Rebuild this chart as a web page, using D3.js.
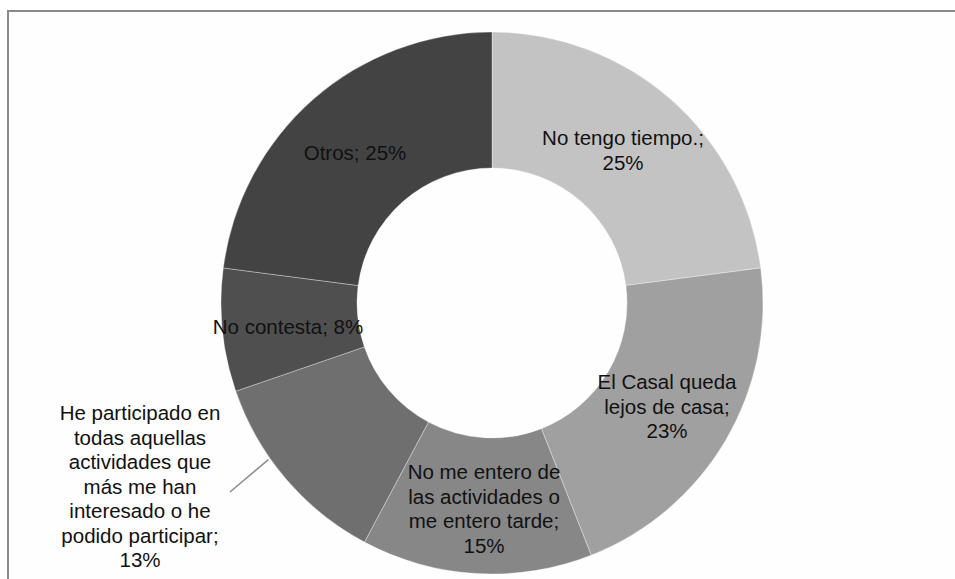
<!DOCTYPE html>
<html>
<head>
<meta charset="utf-8">
<script src="https://cdn.jsdelivr.net/npm/d3@7"></script>
<style>
  html, body { margin: 0; padding: 0; background: #ffffff; }
  svg { display: block; }
  text { font-family: "Liberation Sans", Arial, sans-serif; }
</style>
</head>
<body>
<svg id="chart" width="955" height="579"></svg>
<script>
// Motivos de no participación (porcentaje por respuesta)
const categories = [
  "No tengo tiempo.",
  "El Casal queda lejos de casa",
  "No me entero de las actividades o me entero tarde",
  "He participado en todas aquellas actividades que más me han interesado o he podido participar",
  "No contesta",
  "Otros"
];
const values = [25, 23, 15, 13, 8, 25];
const colors = ["#c3c3c3", "#a0a0a0", "#878787", "#6f6f6f", "#4f4f4f", "#434343"];

// Label lines as wrapped in the data labels
const labelLines = [
  ["No tengo tiempo.;", "25%"],
  ["El Casal queda", "lejos de casa;", "23%"],
  ["No me entero de", "las actividades o", "me entero tarde;", "15%"],
  ["He participado en", "todas aquellas", "actividades que", "más me han", "interesado o he", "podido participar;", "13%"],
  ["No contesta; 8%"],
  ["Otros; 25%"]
];

const svg = d3.select("#chart");

// chart area frame (extends beyond the visible window on the right and bottom)
svg.append("rect")
  .attr("x", 8).attr("y", 11)
  .attr("width", 1000).attr("height", 700)
  .attr("fill", "#fefefe")
  .attr("stroke", "#8a8a8a")
  .attr("stroke-width", 2);

const cx = 492, cy = 303;
const outerR = 271, innerR = 135;

const pie = d3.pie().sort(null).value(d => d.value);
const arcs = pie(categories.map((c, i) => ({ cat: c, value: values[i], i })));
const arc = d3.arc().innerRadius(innerR).outerRadius(outerR);

const g = svg.append("g").attr("transform", `translate(${cx},${cy})`);

g.selectAll("path.slice")
  .data(arcs)
  .enter().append("path")
  .attr("class", "slice")
  .attr("d", arc)
  .attr("fill", d => colors[d.data.i])
  .attr("stroke", "#ffffff")
  .attr("stroke-opacity", 0.45)
  .attr("stroke-width", 0.75);

// label anchor positions (centre of first line), relative to the donut centre
const labelPos = [
  [131, -165],
  [175, 79],
  [-8, 169],
  [-352, 110],
  [-204, 24],
  [-137, -150]
];
const lineH = 24.5;

const labels = svg.append("g");
arcs.forEach(d => {
  const i = d.data.i;
  const t = labels.append("text")
    .attr("text-anchor", "middle")
    .attr("font-size", 20.5)
    .attr("fill", "#111111");
  labelLines[i].forEach((ln, j) => {
    t.append("tspan")
      .attr("x", cx + labelPos[i][0])
      .attr("y", cy + labelPos[i][1] + j * lineH)
      .attr("dy", "0.35em")
      .text(ln);
  });
});

// leader line from the outside label to the rim of its slice
const leaderAngle = 235 * Math.PI / 180;
const rimR = outerR + 2;
labels.append("line")
  .attr("x1", cx + Math.sin(leaderAngle) * rimR)
  .attr("y1", cy - Math.cos(leaderAngle) * rimR)
  .attr("x2", 230).attr("y2", 492)
  .attr("stroke", "#8a8a8a")
  .attr("stroke-width", 1.5);
</script>
</body>
</html>
